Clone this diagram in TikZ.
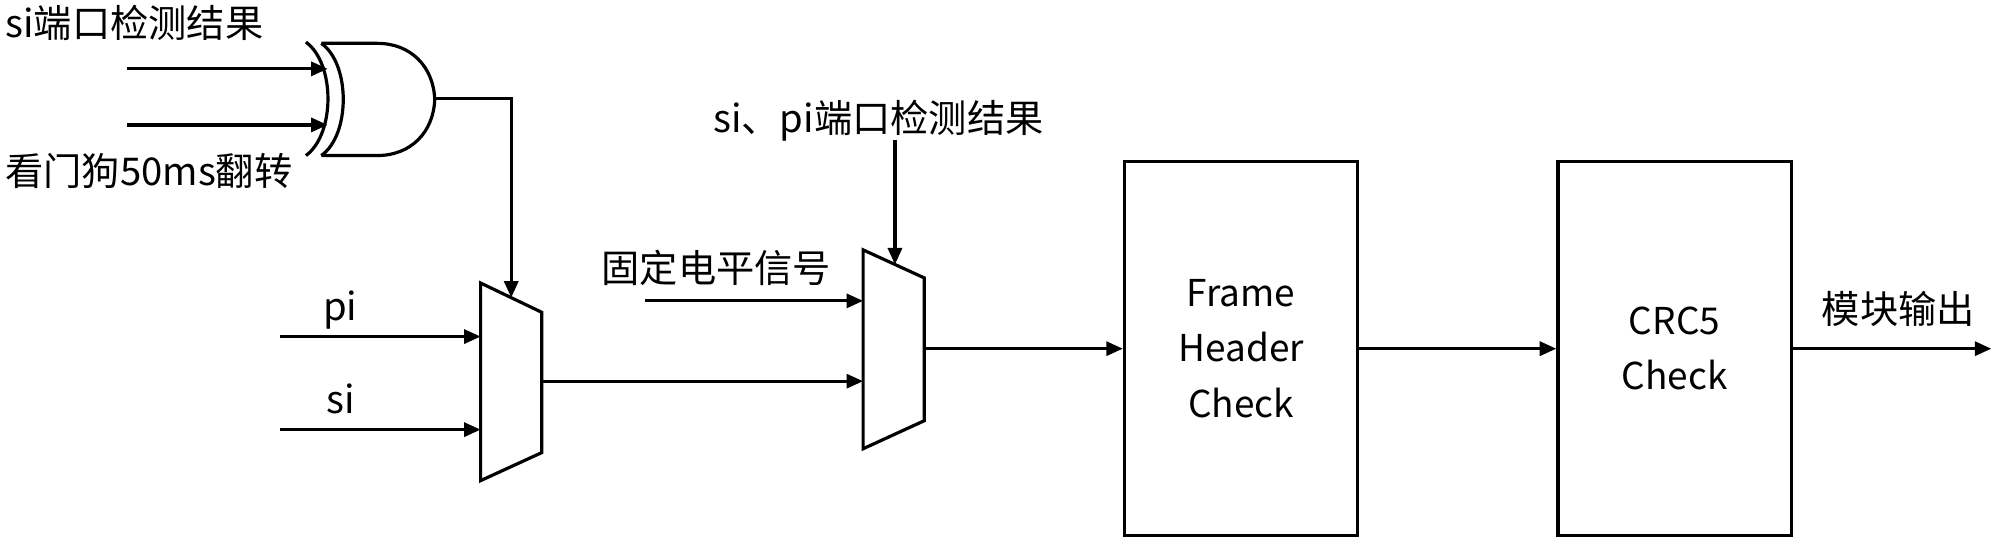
\documentclass[tikz,border=0pt]{standalone}
\usepackage{fontspec}
\setmainfont{Noto Sans CJK SC}
\usetikzlibrary{arrows.meta,positioning}
\begin{document}
\begin{tikzpicture}[x=0.5pt, y=-0.5pt, line width=1.25pt,
  sig/.style={-{Triangle[length=6.5pt,width=5.5pt]}},
  lbl/.style={font=\fontsize{15pt}{18pt}\selectfont, inner sep=0pt},
  blk/.style={draw, minimum width=91.5pt, minimum height=146.5pt, align=center,
    font=\fontsize{14.5pt}{21.75pt}\selectfont}]
\useasboundingbox (0,0) rectangle (1568,427);
% xor gate
\draw (240,33) .. controls (263,50) and (263,105) .. (240,122);
\draw (252,34) .. controls (275,50) and (275,106) .. (252,122);
\draw (252,34) -- (296,34) .. controls (322,34) and (340,52) .. (341,78)
      .. controls (340,104) and (322,122) .. (296,122) -- (252,122);
\coordinate (x_a) at (100,54);   \coordinate (x_ia) at (257,54);
\coordinate (x_b) at (100,98);   \coordinate (x_ib) at (257,98);
\coordinate (x_out) at (341,77);
\node[lbl, anchor=west] (l_si) at (3,18) {si端口检测结果};
\node[lbl, anchor=west] (l_wd) at (3,134) {看门狗50ms翻转};
% mux 1
\draw (377,222) -- (425,245) -- (425,355) -- (377,377) -- cycle;
\coordinate (m1_sel) at (401,233.5);
\coordinate (m1_a) at (377,264);  \coordinate (m1_b) at (377,337);
\coordinate (m1_out) at (425,299);
\coordinate (pi_in) at (220,264); \coordinate (si_in) at (220,337);
\node[lbl] (l_pi) at (267,243) {pi};
\node[lbl] (l_si2) at (267,313) {si};
% mux 2
\draw (677,196) -- (725,218) -- (725,330) -- (677,352) -- cycle;
\coordinate (m2_sel) at (702,207.5);
\coordinate (m2_a) at (677,236);  \coordinate (m2_b) at (677,299);
\coordinate (m2_out) at (725,273.5);
\coordinate (fix_in) at (506,236);
\coordinate (sel_in) at (702,110);
\node[lbl] (l_fix) at (562,210) {固定电平信号};
\node[lbl] (l_sel) at (689,95) {si、pi端口检测结果};
% blocks
\node[blk] (fhc) at (973.5,273.5) {Frame\\Header\\Check};
\node[blk] (crc) at (1313.5,273.5) {CRC5\\Check};
\coordinate (out) at (1562,273.5);
\node[lbl] (l_out) at (1489,242) {模块输出};

\draw[sig] (x_a) -- (x_ia);
\draw[sig] (x_b) -- (x_ib);
\draw[sig] (x_out) -| (m1_sel);
\draw[sig] (pi_in) -- (m1_a);
\draw[sig] (si_in) -- (m1_b);
\draw[sig] (m1_out) -- (m2_b);
\draw[sig] (fix_in) -- (m2_a);
\draw[sig] (sel_in) -- (m2_sel);
\draw[sig] (m2_out) -- (fhc.west);
\draw[sig] (fhc.east) -- (crc.west);
\draw[sig] (crc.east) -- (out);
\end{tikzpicture}
\end{document}
